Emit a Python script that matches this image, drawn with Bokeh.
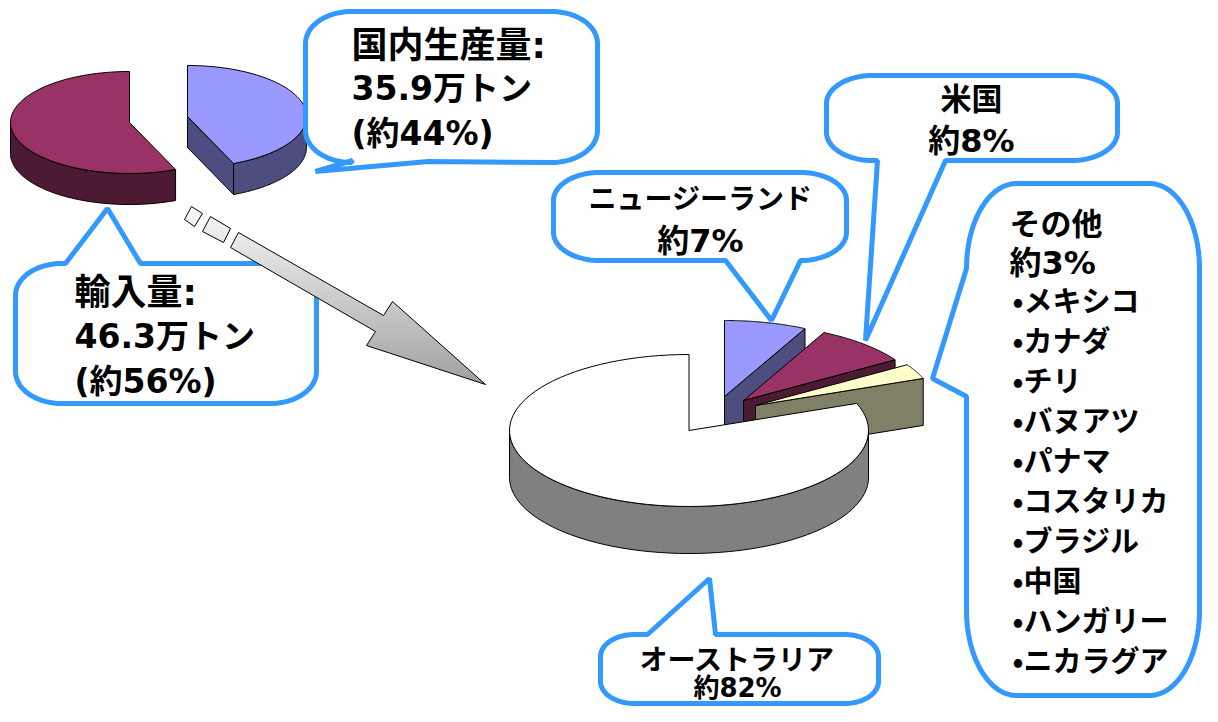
import numpy as np
from bokeh.plotting import figure
from bokeh.models import Range1d
from bokeh.core.properties import value
from bokeh.embed import file_html
from bokeh.resources import INLINE

# ---- data ----
domestic_tonnes = [35.9, 46.3]                 # 国内生産量, 輸入量 (万トン)
import_countries = ["ニュージーランド", "米国", "その他", "オーストラリア"]
import_shares_drawn = [7.4, 8.6, 3.2, 80.8]    # angular share of each drawn slice (%)
other_countries = ["メキシコ", "カナダ", "チリ", "バヌアツ", "パナマ",
                   "コスタリカ", "ブラジル", "中国", "ハンガリー", "ニカラグア"]

# ---- styles ----
LEFT_TOPS = ["#9999ff", "#993366"]
LEFT_SIDES = ["#4d4d80", "#4d1a33"]
BIG_TOPS = ["#9999ff", "#993366", "#ffffcc", "#ffffff"]
BIG_SIDES = ["#4d4d80", "#4d1a33", "#808066", "#808080"]
BIG_OFFSETS = [(35.5, -34), (54.5, -30), (66.5, -25), (0, 0)]
LEFT_OFFSETS = [(58, -6), (0, 0)]
BLUE = "#3399ff"
FONT = value("'DejaVu Sans', 'Noto Sans CJK JP'")
FONT_CJK = value("Noto Sans CJK JP")

p = figure(width=1202, height=706, output_backend="svg", toolbar_location=None,
           x_range=Range1d(0, 1202), y_range=Range1d(706, 0), min_border=0)
p.axis.visible = False
p.grid.visible = False
p.outline_line_color = None
p.background_fill_color = "white"


def arc(cx, cy, rx, ry, a0, a1, n=90):
    t = np.radians(np.linspace(a0, a1, n))
    return cx + rx * np.sin(t), cy - ry * np.cos(t)


def pie3d(shares, tops, sides, offsets, cx, cy, rx, ry, depth):
    start = 0.0
    for share, top, side, (ox, oy) in zip(shares, tops, sides, offsets):
        end = start + share * 3.6
        x0, y0 = cx + ox, cy + oy
        # radial cut face that looks at the viewer
        if 0 < end < 180:
            ex, ey = arc(x0, y0, rx, ry, end, end, 1)
            p.patch([x0, ex[0], ex[0], x0], [y0, ey[0], ey[0] + depth, y0 + depth],
                    fill_color=side, line_color="black", line_width=1)
        # outer wall
        a, b = max(start, 90), min(end, 270)
        if a < b:
            wx, wy = arc(x0, y0, rx, ry, a, b)
            p.patch(np.r_[wx, wx[::-1]], np.r_[wy, wy[::-1] + depth],
                    fill_color=side, line_color="black", line_width=1)
        tx, ty = arc(x0, y0, rx, ry, start, end)
        p.patch(np.r_[x0, tx], np.r_[y0, ty], fill_color=top, line_color="black", line_width=1)
        start = end


total = sum(domestic_tonnes)
pie3d([v / total * 100 for v in domestic_tonnes], LEFT_TOPS, LEFT_SIDES, LEFT_OFFSETS,
      129, 122, 119, 51, 31)
pie3d(import_shares_drawn, BIG_TOPS, BIG_SIDES, BIG_OFFSETS, 688.5, 430, 179.5, 76, 47)


def bubble(l, t, r, b, rx, ry, top=(), right=(), bottom=(), left=()):
    xs, ys = [], []

    def add(x, y):
        xs.extend(np.atleast_1d(x))
        ys.extend(np.atleast_1d(y))

    def extra(pts):
        for q in pts:
            add(q[0], q[1])

    add(*arc(l + rx, t + ry, rx, ry, 270, 360, 24))
    extra(top)
    add(*arc(r - rx, t + ry, rx, ry, 0, 90, 24))
    extra(right)
    add(*arc(r - rx, b - ry, rx, ry, 90, 180, 24))
    extra(bottom)
    add(*arc(l + rx, b - ry, rx, ry, 180, 270, 24))
    extra(left)
    p.patch(xs, ys, fill_color="white", line_color=BLUE, line_width=5)


bubble(305, 11, 597, 162, 46, 32, bottom=[(428, 161), (315, 171), (352, 160)])
bubble(15, 263, 316, 403, 46, 32, top=[(65, 263), (107, 208), (140, 263)])
bubble(553, 172, 846, 260, 46, 28, bottom=[(800, 260), (771, 320), (725, 260)])
bubble(826, 75, 1117, 160, 46, 28, bottom=[(945, 160), (865, 340), (877, 160)])
bubble(966, 183, 1199, 695, 50, 85,
       left=[(966, 396), (932, 378), (966, 268)])
bubble(600, 634, 878, 703, 34, 22, top=[(647, 634), (709, 578), (715, 634)])


# ---- dashed-tail block arrow with a vertical grey gradient ----
arrow_parts = [
    [(191, 206), (202, 213), (194, 226), (184, 219)],
    [(210, 216), (230, 228), (223, 242), (202, 231)],
    [(238, 232), (383, 315), (392, 301), (485, 384), (366, 345), (375, 331), (230, 247)],
]


def clip_band(pts, y0, y1):
    def clip(poly, keep, cross):
        out = []
        for i in range(len(poly)):
            a, b = poly[i], poly[(i + 1) % len(poly)]
            if keep(a):
                out.append(a)
            if keep(a) != keep(b):
                out.append(cross(a, b))
        return out

    def at(yc):
        return lambda a, b: (a[0] + (b[0] - a[0]) * (yc - a[1]) / (b[1] - a[1]), yc)

    out = clip(pts, lambda q: q[1] >= y0, at(y0))
    if out:
        out = clip(out, lambda q: q[1] <= y1, at(y1))
    return out


for part in arrow_parts:
    ymin = min(q[1] for q in part)
    ymax = max(q[1] for q in part)
    for y in np.arange(ymin, ymax, 3.0):
        band = clip_band(part, y, min(y + 3.6, ymax))
        if len(band) >= 3:
            g = int(round(248 - (y - 206) / (384 - 206) * 88))
            col = f"#{g:02x}{g:02x}{g:02x}"
            p.patch([q[0] for q in band], [q[1] for q in band], fill_color=col,
                    line_color=None)
    p.patch([q[0] for q in part], [q[1] for q in part], fill_color=None,
            line_color="black", line_width=1)


def label(x, y, txt, size=28, align="left", font=FONT):
    p.text([x], [y], text=[txt], text_font=font, text_font_style="bold",
           text_font_size=f"{size}px", text_align=align, text_baseline="middle",
           text_color="black")


for y, s, z in zip([45, 88, 133], ["国内生産量:", "35.9万トン", "(約44%)"], [36, 33, 33]):
    label(351, y, s, z)
for y, s, z in zip([292, 336, 381], ["輸入量:", "46.3万トン", "(約56%)"], [36, 33, 33]):
    label(74, y, s, z)

label(700, 199, import_countries[0], 28, "center")
label(700, 240, "約7%", 32, "center")
label(971, 98, import_countries[1], 31, "center")
label(971, 140, "約8%", 32, "center")
label(1009, 223, import_countries[2], 31)
label(1009, 262, "約3%", 32)
for i, c in enumerate(other_countries):
    label(1012, 298.5 + i * 40, "•" + c, 29, font=FONT_CJK)
label(737, 660, import_countries[3], 28, "center")
label(737, 687, "約82%", 26, "center")

open("out.html", "w").write(file_html(p, INLINE))
